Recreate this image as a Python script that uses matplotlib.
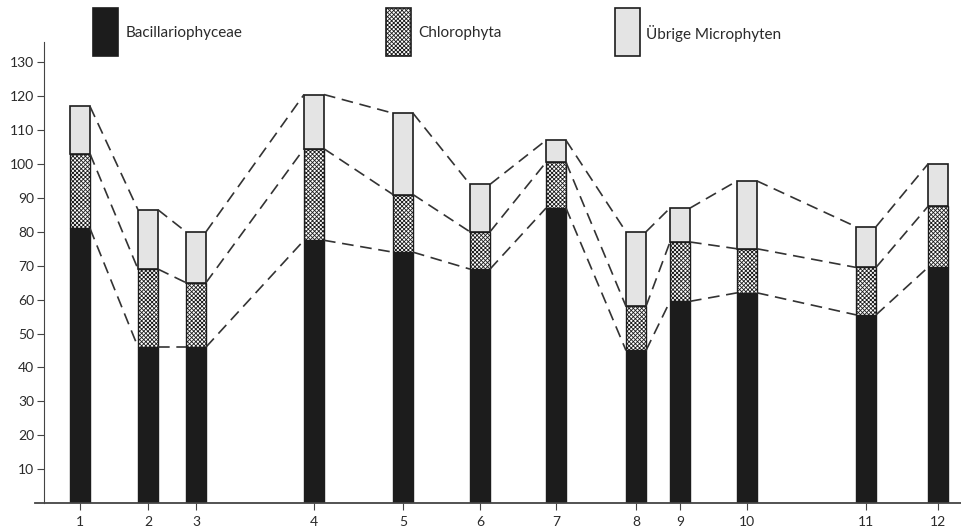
import matplotlib.pyplot as plt
from matplotlib.patches import Rectangle

# station positions along the transect (pixel-like units)
stations = ["1", "2", "3", "4", "5", "6", "7", "8", "9", "10", "11", "12"]
positions = [80, 148, 196, 314, 403, 480, 556, 636, 680, 747, 866, 938]

# cumulative levels
bacillario = [81, 46, 46, 77.5, 74, 69, 87, 45, 59.5, 62, 55.5, 69.5]
chloro_top = [103, 69, 65, 104.5, 91, 80, 100.5, 58, 77, 75, 69.5, 87.5]
total = [117, 86.5, 80, 120.5, 115, 94, 107, 80, 87, 95, 81.5, 100]

chlorophyta = [c - b for c, b in zip(chloro_top, bacillario)]
uebrige = [t - c for t, c in zip(total, chloro_top)]

labels = ["Bacillariophyceae", "Chlorophyta", "Übrige Microphyten"]

BLACK = "#1c1c1c"
GREY = "#e4e4e4"
TXT = "#2a2a2a"
BAR_W = 20

plt.rcParams["font.family"] = ["Lato", "DejaVu Sans"]
plt.rcParams["hatch.linewidth"] = 0.6

fig = plt.figure(figsize=(9.62, 5.27), dpi=100, facecolor="white")
ax = fig.add_axes([35 / 962, 24 / 527, 1 - 35 / 962, (503 - 42) / 527])

ax.bar(positions, bacillario, width=BAR_W, color=BLACK, edgecolor=BLACK, lw=1)
ax.bar(positions, chlorophyta, width=BAR_W, bottom=bacillario, color="white",
       edgecolor=BLACK, hatch="xxxxxxxx", lw=1)
ax.bar(positions, uebrige, width=BAR_W, bottom=chloro_top, color=GREY,
       edgecolor=BLACK, lw=1.2)

# dashed connectors between adjacent bar corners
for level in (bacillario, chloro_top, total):
    for i in range(len(positions) - 1):
        ax.plot([positions[i] + BAR_W / 2, positions[i + 1] - BAR_W / 2],
                [level[i], level[i + 1]], color="#333333", lw=1.2,
                dashes=(7, 4), zorder=1)

ax.set_xlim(35, 962)
ax.set_ylim(0, 136)
ax.spines["left"].set_position(("data", 44))
ax.spines["top"].set_visible(False)
ax.spines["right"].set_visible(False)
ax.spines["left"].set_color("#444444")
ax.spines["bottom"].set_color("#444444")
ax.spines["bottom"].set_linewidth(1.3)

ax.set_yticks(range(10, 131, 10))
ax.set_yticklabels([str(v) for v in range(10, 131, 10)], fontsize=10, color=TXT)
ax.set_xticks(positions)
ax.set_xticklabels(stations, fontsize=10, color=TXT)
ax.tick_params(axis="y", length=5, color="#444444", pad=2)
ax.tick_params(axis="x", length=5, color="#444444", pad=4)

# legend across the top
legend_items = [
    (93, 126, dict(facecolor=BLACK, edgecolor=BLACK)),
    (386, 418, dict(facecolor="white", edgecolor=BLACK, hatch="xxxxxxxx")),
    (615, 646, dict(facecolor=GREY, edgecolor=BLACK)),
]
for (bx, tx, style), lab in zip(legend_items, labels):
    fig.patches.append(Rectangle((bx / 962, 1 - 56 / 527), 25 / 962, 48 / 527,
                                 transform=fig.transFigure, lw=1.2, **style))
    fig.text(tx / 962, 1 - 33 / 527, lab, fontsize=11, color=TXT,
             va="center", ha="left")

fig.savefig("out.png", dpi=100, facecolor="white")
